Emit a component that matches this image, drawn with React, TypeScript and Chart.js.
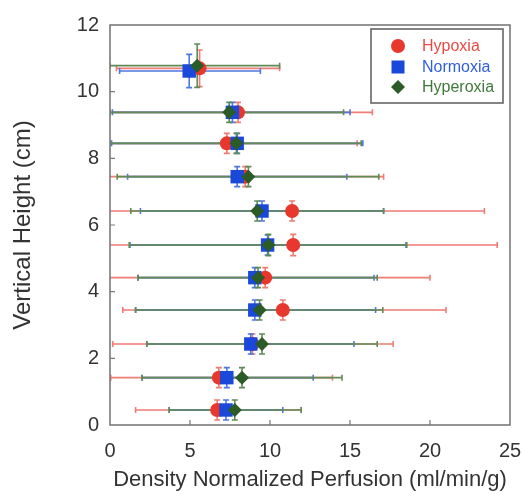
import React, { useEffect, useRef } from 'react';
import { Chart, registerables } from 'chart.js';

Chart.register(...registerables);

const seriesNames = ['Hypoxia', 'Normoxia', 'Hyperoxia'];

const xTickValues = [0, 5, 10, 15, 20, 25];
const yTickValues = [0, 2, 4, 6, 8, 10, 12];

const hypoxiaY = [10.7, 9.38, 8.45, 7.45, 6.42, 5.4, 4.42, 3.45, 2.43, 1.42, 0.45];
const hypoxiaX = [5.6, 8.0, 7.3, 8.45, 11.38, 11.45, 9.7, 10.8, 8.9, 6.8, 6.7];
const hypoxiaXLow = [0.4, -0.5, -0.5, -0.5, -0.5, -0.5, -0.5, 0.8, 0.17, 0.05, 1.6];
const hypoxiaXHigh = [10.6, 16.4, 15.45, 17.1, 23.4, 24.2, 20.0, 21.0, 17.7, 13.9, 11.95];
const hypoxiaYErr = [0.55, 0.3, 0.3, 0.3, 0.3, 0.32, 0.3, 0.3, 0.3, 0.3, 0.3];

const normoxiaY = [10.62, 9.38, 8.45, 7.45, 6.42, 5.4, 4.42, 3.45, 2.43, 1.42, 0.45];
const normoxiaX = [4.95, 7.65, 7.95, 7.95, 9.5, 9.85, 9.05, 9.05, 8.8, 7.3, 7.25];
const normoxiaXLow = [0.6, 0.15, 0.1, 1.1, 1.9, 1.25, 1.75, 1.6, 2.3, 2.0, 3.7];
const normoxiaXHigh = [9.4, 15.0, 15.8, 14.8, 17.1, 18.5, 16.5, 16.6, 15.25, 12.7, 10.8];
const normoxiaYErr = [0.5, 0.3, 0.3, 0.3, 0.3, 0.3, 0.3, 0.3, 0.3, 0.3, 0.3];

const hyperoxiaY = [10.78, 9.38, 8.45, 7.45, 6.42, 5.4, 4.42, 3.45, 2.43, 1.42, 0.45];
const hyperoxiaX = [5.45, 7.45, 7.9, 8.65, 9.2, 9.9, 9.25, 9.35, 9.5, 8.25, 7.8];
const hyperoxiaXLow = [0, 0, 0, 0.45, 1.3, 1.2, 1.75, 1.6, 2.3, 2.0, 3.7];
const hyperoxiaXHigh = [10.6, 14.6, 15.7, 16.8, 17.1, 18.55, 16.7, 17.05, 16.7, 14.5, 11.95];
const hyperoxiaYErr = [0.65, 0.3, 0.3, 0.3, 0.3, 0.32, 0.3, 0.3, 0.3, 0.3, 0.3];

const FONT = '"Liberation Sans", Arial, sans-serif';
const markerColors = ['#e8372c', '#1a48d8', '#2b5b26'];
const barColors = ['#f07c74', '#5076e2', '#5f8c56'];
const textColors = ['#e84a44', '#2f5ee0', '#3f7a3c'];
const pointStyles = ['circle', 'rect', 'rectRot'];
const pointRadii = [7, 9.5, 7];

function makeData(xs: number[], ys: number[], lo: number[], hi: number[], ye: number[]) {
  return xs.map((x, i) => ({ x, y: ys[i], xMin: lo[i], xMax: hi[i], yErr: ye[i] }));
}

const errorBarPlugin = {
  id: 'errorBars',
  beforeDatasetsDraw(chart: any) {
    const { ctx, chartArea } = chart;
    const xs = chart.scales.x;
    const ys = chart.scales.y;
    ctx.save();
    ctx.beginPath();
    ctx.rect(chartArea.left, chartArea.top, chartArea.right - chartArea.left, chartArea.bottom - chartArea.top);
    ctx.clip();
    [0, 1, 2].forEach((di) => {
      const ds = chart.data.datasets[di];
      ctx.strokeStyle = ds.errorColor;
      ctx.lineWidth = 1.6;
      ds.data.forEach((p: any) => {
        const px = xs.getPixelForValue(p.x);
        const py = ys.getPixelForValue(p.y);
        const x0 = xs.getPixelForValue(p.xMin);
        const x1 = xs.getPixelForValue(p.xMax);
        const y0 = ys.getPixelForValue(p.y - p.yErr);
        const y1 = ys.getPixelForValue(p.y + p.yErr);
        const c = 3;
        ctx.beginPath();
        ctx.moveTo(x0, py);
        ctx.lineTo(x1, py);
        ctx.moveTo(x0, py - c);
        ctx.lineTo(x0, py + c);
        ctx.moveTo(x1, py - c);
        ctx.lineTo(x1, py + c);
        ctx.moveTo(px, y0);
        ctx.lineTo(px, y1);
        ctx.moveTo(px - c, y0);
        ctx.lineTo(px + c, y0);
        ctx.moveTo(px - c, y1);
        ctx.lineTo(px + c, y1);
        ctx.stroke();
      });
    });
    ctx.restore();
  },
};

const framePlugin = {
  id: 'frame',
  afterDatasetsDraw(chart: any) {
    const { ctx, chartArea } = chart;
    const xs = chart.scales.x;
    const ys = chart.scales.y;
    ctx.save();
    ctx.strokeStyle = '#7a7a7a';
    ctx.lineWidth = 1.6;
    ctx.strokeRect(chartArea.left, chartArea.top, chartArea.right - chartArea.left, chartArea.bottom - chartArea.top);
    ctx.lineWidth = 1.2;
    ctx.beginPath();
    xTickValues.slice(1, -1).forEach((v) => {
      const px = xs.getPixelForValue(v);
      ctx.moveTo(px, chartArea.bottom);
      ctx.lineTo(px, chartArea.bottom - 5);
    });
    yTickValues.slice(1, -1).forEach((v) => {
      const py = ys.getPixelForValue(v);
      ctx.moveTo(chartArea.left, py);
      ctx.lineTo(chartArea.left + 5, py);
    });
    ctx.stroke();
    ctx.restore();
  },
};

const legendPlugin = {
  id: 'boxLegend',
  afterDraw(chart: any) {
    const { ctx } = chart;
    const bx = 371, by = 29, bw = 132, bh = 74;
    ctx.save();
    ctx.fillStyle = '#ffffff';
    ctx.fillRect(bx, by, bw, bh);
    ctx.strokeStyle = '#666666';
    ctx.lineWidth = 1.6;
    ctx.strokeRect(bx, by, bw, bh);
    const rows = [46, 67, 87];
    chart.data.datasets.forEach((ds: any, i: number) => {
      const cy = rows[i];
      const cx = 398;
      ctx.fillStyle = ds.backgroundColor;
      ctx.beginPath();
      if (ds.pointStyle === 'circle') {
        ctx.arc(cx, cy, 7, 0, Math.PI * 2);
      } else if (ds.pointStyle === 'rect') {
        ctx.rect(cx - 6.5, cy - 6.5, 13, 13);
      } else {
        ctx.moveTo(cx, cy - 7);
        ctx.lineTo(cx + 7, cy);
        ctx.lineTo(cx, cy + 7);
        ctx.lineTo(cx - 7, cy);
        ctx.closePath();
      }
      ctx.fill();
      ctx.fillStyle = ds.labelColor;
      ctx.font = `16px ${FONT}`;
      ctx.textBaseline = 'middle';
      ctx.textAlign = 'left';
      ctx.fillText(ds.label, 422, cy + 1);
    });
    ctx.restore();
  },
};

export default function App() {
  const canvasRef = useRef<HTMLCanvasElement | null>(null);

  useEffect(() => {
    document.body.style.margin = '0';
    const canvas = canvasRef.current;
    if (!canvas) return;
    const seriesData = [
      makeData(hypoxiaX, hypoxiaY, hypoxiaXLow, hypoxiaXHigh, hypoxiaYErr),
      makeData(normoxiaX, normoxiaY, normoxiaXLow, normoxiaXHigh, normoxiaYErr),
      makeData(hyperoxiaX, hyperoxiaY, hyperoxiaXLow, hyperoxiaXHigh, hyperoxiaYErr),
    ];
    const chart = new Chart(canvas, {
      type: 'scatter',
      data: {
        datasets: seriesNames.map((name, i) => ({
          label: name,
          data: seriesData[i],
          backgroundColor: markerColors[i],
          borderColor: markerColors[i],
          borderWidth: 0,
          pointStyle: pointStyles[i],
          pointRadius: pointRadii[i],
          pointHoverRadius: pointRadii[i],
          order: 3 - i,
          errorColor: barColors[i],
          labelColor: textColors[i],
        })) as any,
      },
      options: {
        responsive: false,
        animation: false,
        layout: { padding: { left: 0, right: 13, top: 25, bottom: 0 } },
        plugins: {
          legend: { display: false },
          tooltip: { enabled: false },
        },
        scales: {
          x: {
            type: 'linear',
            min: 0,
            max: 25,
            afterBuildTicks: (scale: any) => {
              scale.ticks = xTickValues.map((v) => ({ value: v }));
            },
            afterFit: (scale: any) => {
              scale.height = 72;
              scale.paddingLeft = 0;
              scale.paddingRight = 0;
            },
            ticks: {
              font: { size: 20, family: FONT },
              color: '#333333',
              padding: 14,
              maxRotation: 0,
            },
            grid: { display: false, drawTicks: false },
            border: { display: false },
            title: {
              display: true,
              text: 'Density Normalized Perfusion (ml/min/g)',
              font: { size: 22, family: FONT },
              color: '#333333',
              padding: { top: 0, bottom: 4 },
            },
          },
          y: {
            type: 'linear',
            min: 0,
            max: 12,
            afterBuildTicks: (scale: any) => {
              scale.ticks = yTickValues.map((v) => ({ value: v }));
            },
            afterFit: (scale: any) => {
              scale.width = 110;
              scale.paddingTop = 0;
              scale.paddingBottom = 0;
            },
            ticks: {
              font: { size: 20, family: FONT },
              color: '#333333',
              padding: 11,
            },
            grid: { display: false, drawTicks: false },
            border: { display: false },
            title: {
              display: true,
              text: 'Vertical Height (cm)',
              font: { size: 24, family: FONT },
              color: '#333333',
              padding: { top: 9, bottom: 0 },
            },
          },
        },
      },
      plugins: [errorBarPlugin, framePlugin, legendPlugin],
    });
    return () => chart.destroy();
  }, []);

  return (
    <div style={{ width: 523, height: 497, background: '#ffffff' }}>
      <canvas ref={canvasRef} width={523} height={497} />
    </div>
  );
}
